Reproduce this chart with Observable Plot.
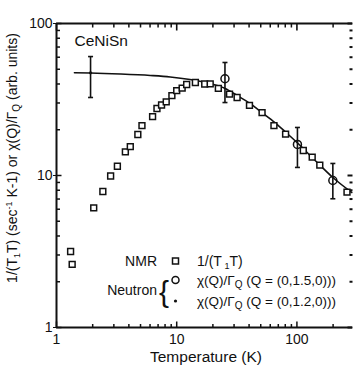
<!DOCTYPE html>
<html><head><meta charset="utf-8">
<script src="https://cdn.jsdelivr.net/npm/d3@7"></script>
<script src="https://cdn.jsdelivr.net/npm/@observablehq/plot@0.6"></script>
<style>body{margin:0;background:#fff} svg{display:block}</style>
</head><body><div id="chart"></div>
<script>
// NMR 1/(T1T)
const nmrT = [1.31, 1.35, 2.04, 2.43, 2.82, 3.21, 3.74, 4.11, 4.75, 5.14, 6.3, 6.85, 7.48, 8.18, 9.12, 10.0, 11.1, 12.1, 14.3, 17.1, 19.0, 22.2, 27.5, 31.8, 40.3, 51.3, 64.4, 80.5, 113, 134, 155, 261];
const nmrV = [3.16, 2.6, 6.13, 7.85, 9.93, 11.5, 14.3, 15.5, 18.6, 21.3, 24.4, 27.6, 29.1, 30.5, 33.5, 36.2, 37.6, 39.7, 40.9, 40.0, 40.1, 37.4, 34.3, 32.6, 28.9, 25.9, 21.3, 18.7, 14.6, 13.2, 11.7, 7.77];
// Neutron Q=(0,1.5,0)
const n15T = [25.2, 101, 199];
const n15V = [43.3, 16.0, 9.27];
const n15Lo = [30.2, 11.3, 7.03];
const n15Hi = [55.4, 20.7, 12.0];
// Neutron Q=(0,1.2,0)
const n12T = [1.92];
const n12V = [47.4];
const n12Lo = [32.6];
const n12Hi = [60.6];
// fitted curve
const curveT = [1.41, 1.91, 3.40, 6.03, 8.83, 12.9, 19.0, 25.3, 31.8, 40.7, 51.3, 65.6, 81.1, 100, 141, 199, 286];
const curveV = [47.4, 47.2, 46.5, 45.5, 44.5, 42.8, 40.3, 37.4, 33.6, 29.8, 25.9, 22.3, 19.2, 16.5, 12.6, 9.7, 7.73];
// ticks
const majorTicks = [1, 10, 100];
const xMinorTicks = [2, 3, 4, 5, 6, 7, 8, 9, 20, 30, 40, 50, 60, 70, 80, 90, 200];
const yMinorTicks = [2, 3, 4, 5, 6, 7, 8, 9, 20, 30, 40, 50, 60, 70, 80, 90];
const xDomain = [1, 290];
const yDomain = [1, 100];

const nmr = nmrT.map((t, i) => ({t, v: nmrV[i]}));
const n15 = n15T.map((t, i) => ({t, v: n15V[i], lo: n15Lo[i], hi: n15Hi[i]}));
const n12 = n12T.map((t, i) => ({t, v: n12V[i], lo: n12Lo[i], hi: n12Hi[i]}));
const errs = n15.concat(n12);
const curve = curveT.map((t, i) => ({t, v: curveV[i]}));

const capSymbol = {draw(ctx, size) { const r = Math.sqrt(size / Math.PI); ctx.moveTo(-r, 0); ctx.lineTo(r, 0); }};
const dirSymbol = (dx, dy) => ({draw(ctx, size) { const r = Math.sqrt(size / Math.PI); ctx.moveTo(0, 0); ctx.lineTo(dx * r, dy * r); }});
const ink = "#111";

function ticks(values, side, len, sw) {
  const o = {r: len, stroke: ink, strokeWidth: sw, fill: "none"};
  if (side === "left") return Plot.dot(values, {...o, x: () => xDomain[0], y: d => d, symbol: dirSymbol(1, 0)});
  if (side === "right") return Plot.dot(values, {...o, x: () => xDomain[1], y: d => d, symbol: dirSymbol(-1, 0)});
  if (side === "bottom") return Plot.dot(values, {...o, y: () => yDomain[0], x: d => d, symbol: dirSymbol(0, -1)});
  return Plot.dot(values, {...o, y: () => yDomain[1], x: d => d, symbol: dirSymbol(0, 1)});
}

const W = 353, H = 369;
const plot = Plot.plot({
  width: W, height: H,
  marginLeft: 56, marginRight: 1, marginTop: 23, marginBottom: 42,
  style: {fontFamily: "'Liberation Sans', Arial, Helvetica, sans-serif", color: ink, background: "#fff"},
  x: {type: "log", domain: xDomain, axis: null},
  y: {type: "log", domain: yDomain, axis: null},
  r: {type: "identity"},
  marks: [
    // frame
    Plot.ruleX([xDomain[0]], {stroke: ink, strokeWidth: 2}),
    Plot.ruleY([yDomain[0]], {stroke: ink, strokeWidth: 2}),
    Plot.ruleY([yDomain[1]], {stroke: ink, strokeWidth: 2}),
    // inward ticks
    ticks(yMinorTicks, "left", 3.5, 1.5),
    ticks(majorTicks, "left", 5, 1.5),
    ticks(yMinorTicks, "right", 3, 2),
    ticks(majorTicks, "right", 5, 2),
    ticks(xMinorTicks, "bottom", 3.5, 1.5),
    ticks(majorTicks, "bottom", 6, 1.5),
    ticks(xMinorTicks, "top", 4, 1.5),
    ticks(majorTicks, "top", 7, 1.6),
    // labels
    Plot.axisY(majorTicks, {anchor: "left", tickSize: 3, tickPadding: 1, fontSize: 14, tickFormat: d => String(d), label: null, stroke: ink, fill: ink}),
    Plot.axisX(majorTicks, {anchor: "bottom", tickSize: 0, tickPadding: 7, fontSize: 14, tickFormat: d => String(d), label: null, fill: ink}),
    // curve
    Plot.line(curve, {x: "t", y: "v", stroke: ink, strokeWidth: 1.6, curve: "monotone-x"}),
    // error bars
    Plot.ruleX(errs, {x: "t", y1: "lo", y2: "hi", stroke: ink, strokeWidth: 1.6}),
    Plot.dot(errs, {x: "t", y: "lo", symbol: capSymbol, r: 2.5, stroke: ink, strokeWidth: 1.6}),
    Plot.dot(errs, {x: "t", y: "hi", symbol: capSymbol, r: 2.5, stroke: ink, strokeWidth: 1.6}),
    // NMR squares
    Plot.dot(nmr, {x: "t", y: "v", symbol: "square", r: 3.3, stroke: ink, strokeWidth: 1.5, fill: "#fff"}),
    // neutron
    Plot.dot(n15, {x: "t", y: "v", symbol: "circle", r: 4, stroke: ink, strokeWidth: 1.5, fill: "none"}),
    Plot.dot(n12, {x: "t", y: "v", symbol: "circle", r: 1.6, fill: ink}),
    // sample label
    Plot.text(["CeNiSn"], {frameAnchor: "top-left", dx: 18, dy: 11, fontSize: 15.5, fill: ink, textAnchor: "start"})
  ]
});

const svg = d3.select(plot);
const g = svg.append("g").attr("fill", ink).attr("text-anchor", "start").attr("font-family", "'Liberation Sans', Arial, Helvetica, sans-serif");

// y label
const yl = g.append("text").attr("transform", "translate(17,158) rotate(-90)").attr("text-anchor", "middle").attr("font-size", 14);
yl.append("tspan").text("1/(T");
yl.append("tspan").attr("font-size", 9).attr("dy", 3).text("1");
yl.append("tspan").attr("dy", -3).text("T) (sec");
yl.append("tspan").attr("font-size", 9).attr("dy", -5).text("-1");
yl.append("tspan").attr("dy", 5).text(" K-1) or \u03c7(Q)/\u0393");
yl.append("tspan").attr("font-size", 10).attr("dy", 3).text("Q");
yl.append("tspan").attr("dy", -3).text(" (arb. units)");

// x label
g.append("text").attr("x", 206).attr("y", 362).attr("text-anchor", "middle").attr("font-size", 15.5).text("Temperature (K)");

// legend
g.append("text").attr("x", 157).attr("y", 266).attr("text-anchor", "end").attr("font-size", 14).text("NMR");
g.append("rect").attr("x", 172.5).attr("y", 258).attr("width", 6).attr("height", 6).attr("fill", "#fff").attr("stroke", ink).attr("stroke-width", 1.5);
const l1 = g.append("text").attr("x", 197).attr("y", 266).attr("font-size", 14).attr("text-anchor", "start");
l1.append("tspan").text("1/(T");
l1.append("tspan").attr("font-size", 9).attr("dy", 3).text(" 1");
l1.append("tspan").attr("dy", -3).text("T)");

g.append("text").attr("x", 157).attr("y", 295).attr("text-anchor", "end").attr("font-size", 14).text("Neutron");
g.append("text").attr("x", 159).attr("y", 302).attr("font-size", 30).attr("text-anchor", "start").text("{");
g.append("circle").attr("cx", 175.5).attr("cy", 280).attr("r", 3.5).attr("fill", "none").attr("stroke", ink).attr("stroke-width", 1.5);
g.append("circle").attr("cx", 175.5).attr("cy", 301).attr("r", 1.6).attr("fill", ink);
function chiLine(y, q) {
  const t = g.append("text").attr("x", 197).attr("y", y).attr("font-size", 13.5).attr("text-anchor", "start");
  t.append("tspan").text("\u03c7(Q)/\u0393");
  t.append("tspan").attr("font-size", 10).attr("dy", 3).text("Q");
  t.append("tspan").attr("dy", -3).text(" (Q = " + q + ")");
}
chiLine(285, "(0,1.5,0))");
chiLine(306, "(0,1.2,0))");

document.getElementById("chart").appendChild(plot);
</script>
</body></html>
